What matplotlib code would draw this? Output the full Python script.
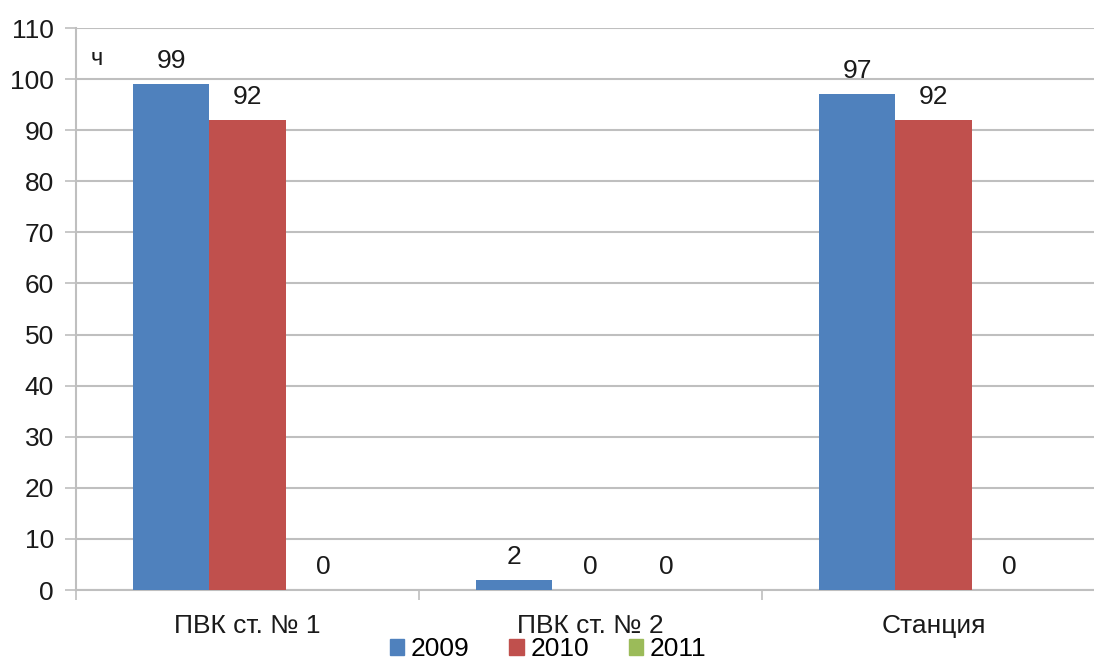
import numpy as np
import matplotlib.pyplot as plt
from matplotlib.patches import Patch

# Часы работы по объектам
categories = ["ПВК ст. № 1", "ПВК ст. № 2", "Станция"]
years = ["2009", "2010", "2011"]
h2009 = [99, 2, 97]
h2010 = [92, 0, 92]
h2011 = [0, 0, 0]

colors = ["#4F81BD", "#C0504D", "#9BBB59"]
grid_c = "#BFBFBF"
txt_c = "#1A1A1A"

plt.rcParams["font.family"] = ["Liberation Sans", "DejaVu Sans"]

fig = plt.figure(figsize=(10.94, 6.59), dpi=100)
W, H = 1094, 659
ax = fig.add_axes([76 / W, 1 - 590 / H, (1105 - 76) / W, (590 - 28) / H])

x = np.arange(len(categories))
width = 0.222
series = [h2009, h2010, h2011]
for i, (vals, col) in enumerate(zip(series, colors)):
    pos = x + (i - 1) * width
    ax.bar(pos, vals, width=width, color=col, zorder=3)
    for px, v in zip(pos, vals):
        ax.annotate(str(v), (px, v), xytext=(0, 8), textcoords="offset points",
                    ha="center", va="bottom", fontsize=19, color=txt_c)

ax.set_xlim(-0.5, 2.5)
ax.set_ylim(0, 110)
ax.set_yticks(range(0, 111, 10))
ax.yaxis.grid(True, color=grid_c, linewidth=1.5, zorder=0)
ax.tick_params(axis="y", length=8, width=1.2, color=grid_c, labelsize=19,
               labelcolor=txt_c, pad=8)

# категории подписаны по центру, засечки — на границах групп
ax.set_xticks([-0.5, 0.5, 1.5, 2.5])
ax.set_xticklabels([])
ax.set_xticks(x, minor=True)
ax.set_xticklabels(categories, minor=True)
ax.tick_params(axis="x", which="major", length=7, width=1.2, color=grid_c)
ax.tick_params(axis="x", which="minor", length=0, labelsize=19,
               labelcolor=txt_c, pad=17)

for side in ["top", "right"]:
    ax.spines[side].set_visible(False)
for side in ["left", "bottom"]:
    ax.spines[side].set_color(grid_c)
    ax.spines[side].set_linewidth(1.5)

ax.text(0.014, 0.965, "ч", transform=ax.transAxes, fontsize=17,
        color=txt_c, va="top")

handles = [Patch(color=c, label=y) for c, y in zip(colors, years)]
fig.legend(handles=handles, loc="center", bbox_to_anchor=(548 / W, 1 - 649 / H),
           ncol=3, frameon=False, fontsize=19, handlelength=0.55,
           handleheight=0.55, handletextpad=0.25, columnspacing=1.5)

fig.savefig("out.png", dpi=100)
